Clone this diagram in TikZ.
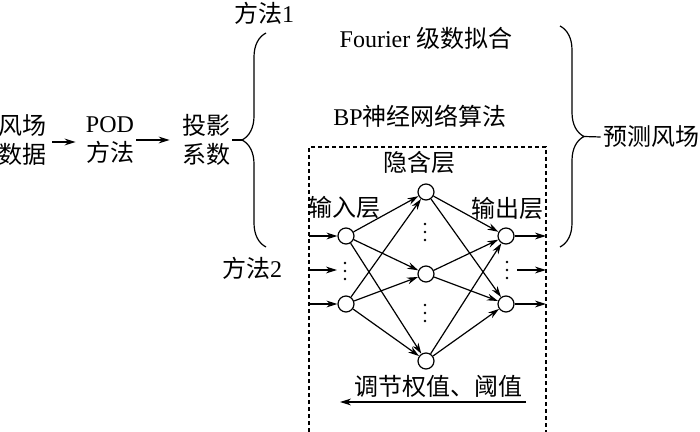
\documentclass[tikz,border=0pt]{standalone}
\usepackage{fontspec}
\setmainfont{Liberation Serif}
\newfontfamily\cjk{Noto Sans CJK SC}
\usepackage{tikz}
\usetikzlibrary{arrows.meta, positioning, decorations.pathreplacing}
\tikzstyle{arrow}=[-{Stealth[length=5.5pt, width=3.4pt]}, line width=0.6pt, color=black]

\begin{document}
\begin{tikzpicture}[x=0.5pt, y=-0.5pt,
  txt/.style={inner sep=1pt, align=center, font=\fontsize{12}{14.5}\selectfont},
  neuron/.style={circle, draw, line width=0.6pt, minimum size=8pt, inner sep=0pt},
  bracel/.style={decorate, line width=0.6pt, decoration={brace, amplitude=12pt}},
  boxline/.style={line width=0.6pt, dash pattern=on 2pt off 1.5pt}
]
\useasboundingbox (0,0) rectangle (700,432);

% Left part: data flow
\node[txt] (wind) at (22,140) {\cjk 风场\\\cjk 数据};
\node[txt] (pod) at (110,140) {POD\\\cjk 方法};
\node[txt] (coef) at (206,140) {\cjk 投影\\\cjk 系数};
\draw[arrow, shorten <=2pt, shorten >=4pt] ([yshift=-1pt]wind.east) -- ([yshift=-1pt]pod.west);
\draw[arrow, shorten >=5pt] (pod) -- (coef);

% Left brace: two methods
\draw[bracel] (266,247) -- (266,33);
\coordinate (ltip) at (242,140);
\draw[line width=0.6pt] (coef.east) -- (ltip);
\node[txt] (meth1) at (264,13) {{\cjk 方法}1};
\node[txt] (meth2) at (252,268) {{\cjk 方法}2};

% Method texts
\node[txt] (fourier) at (426,38) {Fourier {\cjk 级数拟合}};
\node[txt] (bp) at (420,116) {BP{\cjk 神经网络算法}};

% BP network box
\draw[boxline] (309,432) -- (309,147) -- (546,147) -- (546,432);
\node[txt] (hidlab) at (419,162) {\cjk 隐含层};
\node[txt] (inlab) at (344,207) {\cjk 输入层};
\node[txt] (outlab) at (507,208) {\cjk 输出层};

% Neurons
\node[neuron] (i1) at (346,236) {};
\node[neuron] (i2) at (346,304) {};
\node[neuron] (h1) at (426,192) {};
\node[neuron] (h2) at (426,274) {};
\node[neuron] (h3) at (426,361) {};
\node[neuron] (o1) at (506,236) {};
\node[neuron] (o2) at (506,304) {};
\coordinate (idots) at (345,271);
\coordinate (odots) at (507,270);

% Ellipsis dots
\foreach \y in {263,271,279} \fill (345,\y) circle (0.7pt);
\foreach \y in {224,232,240} \fill (425,\y) circle (0.7pt);
\foreach \y in {305,313,321} \fill (425,\y) circle (0.7pt);
\foreach \y in {262,270,278} \fill (507,\y) circle (0.7pt);

% Inputs and outputs
\coordinate (x1) at (309,236);
\coordinate (x2) at (309,270);
\coordinate (x3) at (309,304);
\coordinate (y1) at (546,236);
\coordinate (y2) at (546,270);
\coordinate (y3) at (546,304);
\draw[arrow] (x1) -- (i1);
\draw[arrow] (x2) -- ([xshift=-4pt]idots |- x2);
\draw[arrow] (x3) -- (i2);
\draw[arrow] (o1) -- (y1);
\draw[arrow] ([xshift=5pt]odots) -- (y2);
\draw[arrow] (o2) -- (y3);

% Weights
\draw[arrow] (i1) -- (h1);
\draw[arrow] (i1) -- (h2);
\draw[arrow] (i1) -- (h3);
\draw[arrow] (i2) -- (h1);
\draw[arrow] (i2) -- (h2);
\draw[arrow] (i2) -- (h3);
\draw[arrow] (h1) -- (o1);
\draw[arrow] (h1) -- (o2);
\draw[arrow] (h2) -- (o1);
\draw[arrow] (h2) -- (o2);
\draw[arrow] (h3) -- (o1);
\draw[arrow] (h3) -- (o2);

% Back propagation
\node[txt] (adjust) at (438,386) {\cjk 调节权值、阈值};
\coordinate (bpa) at (526,402);
\coordinate (bpb) at (340,402);
\draw[arrow] (bpa) -- (bpb);

% Right brace: prediction
\draw[bracel] (560,26) -- (560,247);
\coordinate (rtip) at (584,136.5);
\node[txt] (pred) at (651,137) {\cjk 预测风场};
\draw[line width=0.6pt] (rtip) -- (pred.west);
\end{tikzpicture}
\end{document}
